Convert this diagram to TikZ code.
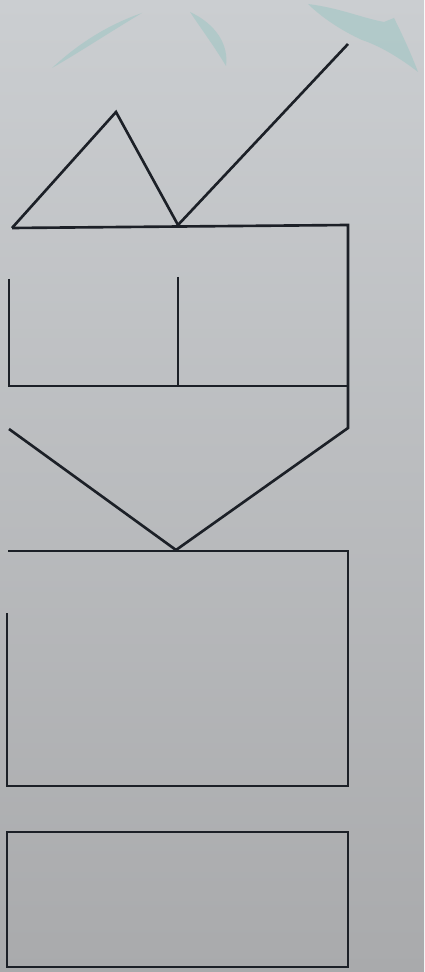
\documentclass[tikz,border=0pt]{standalone}
\usepackage{tikz}
\definecolor{inkline}{HTML}{1C2027}
\definecolor{smudge}{HTML}{8CC3BF}
\definecolor{papertop}{HTML}{CBCED1}
\definecolor{paperbot}{HTML}{A9AAAC}
\begin{document}
\begin{tikzpicture}[x=0.02cm,y=-0.02cm,
  wall/.style={draw=inkline,line width=1.5pt,line join=miter},
  ghost/.style={fill=smudge,opacity=0.4,draw=none}
]
\shade[top color=papertop,bottom color=paperbot] (0,0) rectangle (424,972);
\useasboundingbox (0,0) rectangle (424,972);
% faint marks at the top
\fill[ghost] (52,68) .. controls (80,42) and (110,24) .. (142,13)
  .. controls (110,32) and (80,52) .. (52,68) -- cycle;
\fill[ghost] (190,12) .. controls (216,24) and (229,45) .. (226,66)
  .. controls (214,46) and (202,30) .. (190,12) -- cycle;
\fill[ghost] (308,4) .. controls (340,8) and (362,18) .. (384,22)
  -- (394,18) .. controls (404,38) and (412,56) .. (418,72)
  .. controls (400,58) and (380,46) .. (362,40)
  .. controls (340,30) and (320,16) .. (308,4) -- cycle;
% roof
\coordinate (eaveL) at (12,228);
\coordinate (peak) at (116,112);
\coordinate (valley) at (178,225);
\coordinate (tip) at (348,44);
\coordinate (eaveR) at (348,225);
\draw[wall] (eaveL) -- (peak) -- (valley) -- (tip);
% upper block and funnel
\coordinate (shoulder) at (348,428);
\coordinate (funnel) at (176,550);
\draw[wall] (eaveL) -- (eaveR) -- (shoulder) -- (funnel) -- (9,429);
\draw[wall] (9,279) -- (9,386) -- (348,386);
\draw[wall] (178,277) -- (178,386);
% lower blocks
\draw[wall] (8,551) -- (348,551) -- (348,786) -- (7,786) -- (7,613);
\draw[wall] (7,832) rectangle (348,967);
\end{tikzpicture}
\end{document}
